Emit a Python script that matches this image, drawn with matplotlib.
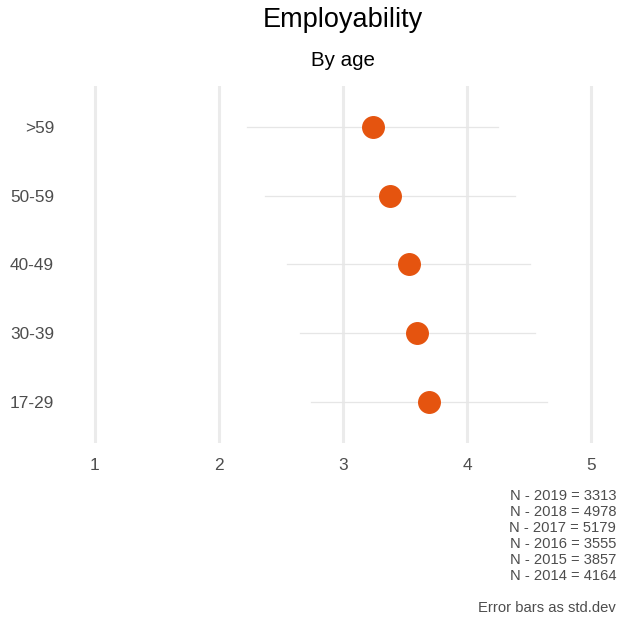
import matplotlib
matplotlib.use("Agg")
import matplotlib.pyplot as plt

plt.rcParams['font.family'] = ['Liberation Sans', 'DejaVu Sans']

# Data
groups = ['17-29', '30-39', '40-49', '50-59', '>59']
means = [3.69, 3.60, 3.53, 3.38, 3.24]
sds = [0.95, 0.95, 0.98, 1.01, 1.01]
n_labels = ['N - 2019 = 3313', 'N - 2018 = 4978', 'N - 2017 = 5179',
            'N - 2016 = 3555', 'N - 2015 = 3857', 'N - 2014 = 4164']
caption = 'Error bars as std.dev'

fig = plt.figure(figsize=(6.18, 6.21), dpi=100)
ax = fig.add_axes([70 / 618, 1 - 443 / 621, 546 / 618, 357 / 621])

ypos = list(range(1, len(groups) + 1))
for y, m, s in zip(ypos, means, sds):
    ax.plot([m - s, m + s], [y, y], color='#e6e6e6', linewidth=0.9, zorder=1)
ax.plot(means, ypos, 'o', color='#e5540f', markersize=15.5, zorder=3)

ax.set_xlim(0.8, 5.2)
ax.set_ylim(0.4, len(groups) + 0.6)
ax.set_xticks([1, 2, 3, 4, 5])
ax.set_yticks(ypos)
ax.set_yticklabels(groups)
ax.grid(axis='x', color='#ebebeb', linewidth=2.2, zorder=0)
ax.set_axisbelow(True)
for sp in ax.spines.values():
    sp.set_visible(False)
ax.tick_params(length=0, labelsize=12.4, labelcolor='#4d4d4d')
ax.tick_params(axis='x', pad=11)
ax.tick_params(axis='y', pad=11.5)

# centred over the panel
cx = (70 + 616) / 2 / 618
fig.text(cx, 1 - 20 / 621, 'Employability', ha='center', va='center', fontsize=19.5)
fig.text(cx, 1 - 60 / 621, 'By age', ha='center', va='center', fontsize=14.8)

for i, t in enumerate(n_labels):
    fig.text(616 / 618, 1 - (496 + 16 * i) / 621, t, ha='right', va='center',
             fontsize=10.6, color='#4d4d4d')
fig.text(616 / 618, 1 - 608 / 621, caption, ha='right', va='center',
         fontsize=10.6, color='#4d4d4d')

fig.savefig('out.png', dpi=100)
